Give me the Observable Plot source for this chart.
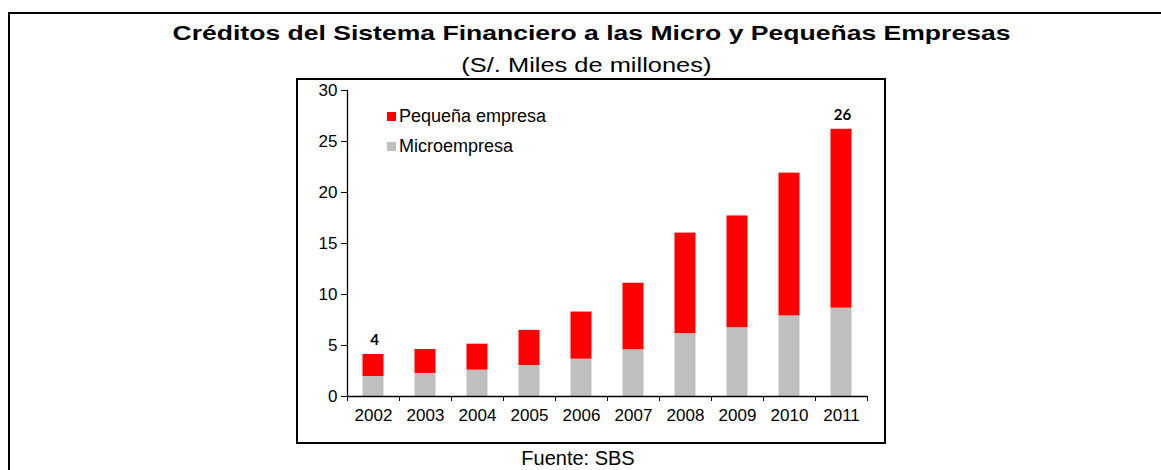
<!DOCTYPE html>
<html><head><meta charset="utf-8">
<script src="https://cdn.jsdelivr.net/npm/d3@7"></script>
<script src="https://cdn.jsdelivr.net/npm/@observablehq/plot@0.6"></script>
<style>
body{margin:0;background:#fff;font-family:"Liberation Sans",Arial,sans-serif;color:#000;}
#wrap{position:relative;width:1161px;height:470px;overflow:hidden;background:#fff;}
#outer{position:absolute;left:8px;top:12px;width:1300px;height:600px;border-top:2px solid #000;border-left:2px solid #000;}
.line{position:absolute;left:0;text-align:center;white-space:nowrap;}
.line span{display:inline-block;transform-origin:50% 50%;}
#title{top:20px;width:1182px;font-weight:bold;font-size:21px;line-height:26px;}
#subtitle{top:53px;width:1173px;font-size:20px;line-height:24px;}
#box{position:absolute;left:296px;top:78px;width:590px;height:366px;box-sizing:border-box;border:2px solid #000;}
#chart{position:absolute;left:297px;top:79px;}
.leg{position:absolute;font-size:18px;line-height:20px;white-space:nowrap;}
.sw{position:absolute;width:9px;height:9px;}
#footer{top:446px;width:1156px;font-size:20px;line-height:24px;}
</style></head><body>
<div id="wrap">
  <div id="outer"></div>
  <div id="title" class="line"><span data-w="838">Créditos del Sistema Financiero a las Micro y Pequeñas Empresas</span></div>
  <div id="subtitle" class="line"><span data-w="250">(S/. Miles de millones)</span></div>
  <div id="box"></div>
  <div id="chart"></div>
  <div class="sw" style="left:387px;top:112px;background:#FF0000"></div>
  <div class="leg" style="left:399px;top:106px;">Pequeña empresa</div>
  <div class="sw" style="left:387px;top:142px;background:#BFBFBF"></div>
  <div class="leg" style="left:399px;top:136px;">Microempresa</div>
  <div id="footer" class="line"><span>Fuente: SBS</span></div>
</div>
<script>
const years = ["2002","2003","2004","2005","2006","2007","2008","2009","2010","2011"];
const microempresa = [1.96, 2.26, 2.58, 3.04, 3.66, 4.58, 6.16, 6.74, 7.90, 8.66];
const pequenaEmpresa = [2.16, 2.35, 2.55, 3.44, 4.62, 6.52, 9.86, 10.96, 14.00, 17.54];
const seriesNames = ["Microempresa", "Pequeña empresa"];
const seriesColors = ["#BFBFBF", "#FF0000"];
const yTicks = [0, 5, 10, 15, 20, 25, 30];
const labelYears = ["2002", "2011"];

// stretch heading text horizontally as in the reference
document.querySelectorAll(".line span[data-w]").forEach(s => {
  const w = s.getBoundingClientRect().width;
  s.style.transform = `scaleX(${(+s.dataset.w) / w})`;
});

const rows = [];
years.forEach((y, i) => rows.push({year: y, tipo: seriesNames[0], value: microempresa[i]}));
years.forEach((y, i) => rows.push({year: y, tipo: seriesNames[1], value: pequenaEmpresa[i]}));
const totals = years.map((y, i) => ({year: y, total: microempresa[i] + pequenaEmpresa[i]}))
  .filter(d => labelYears.includes(d.year));

const W = 588, H = 364, mL = 50, mR = 18, mT = 11, mB = 47;
const step = (W - mL - mR) / years.length;
const barW = 21;
const inset = (step - barW) / 2;

const chart = Plot.plot({
  width: W, height: H,
  marginLeft: mL, marginRight: mR, marginTop: mT, marginBottom: mB,
  style: {fontFamily: "'Liberation Sans', Arial, sans-serif", fontSize: "17px", color: "#000", background: "transparent"},
  x: {domain: years, padding: 0, label: null},
  y: {domain: [0, 30], label: null},
  color: {domain: seriesNames, range: seriesColors},
  marks: [
    Plot.barY(rows, {x: "year", y: "value", fill: "tipo", insetLeft: inset, insetRight: inset}),
    Plot.frame({anchor: "left", stroke: "#000", strokeWidth: 1.3}),
    Plot.ruleY([0], {stroke: "#000", strokeWidth: 1.3}),
    Plot.axisY({ticks: yTicks, tickSize: 6, tickPadding: 4, fontSize: 17, stroke: "#000", label: null}),
    Plot.axisX({tickSize: 0, tickPadding: 12, fontSize: 17, label: null}),
    Plot.axisX({ticks: years, tickSize: 5, tickFormat: () => "", dx: -step / 2, stroke: "#000", label: null}),
    Plot.axisX({ticks: [years[years.length - 1]], tickSize: 5, tickFormat: () => "", dx: step / 2, stroke: "#000", label: null}),
    Plot.text(totals, {x: "year", y: "total", text: d => String(Math.round(d.total)), dy: -14, dx: 1, fontWeight: "bold", fontSize: 15, fontFamily: "Lato, sans-serif", fill: "#000"})
  ]
});
document.getElementById("chart").appendChild(chart);
</script>
</body></html>
